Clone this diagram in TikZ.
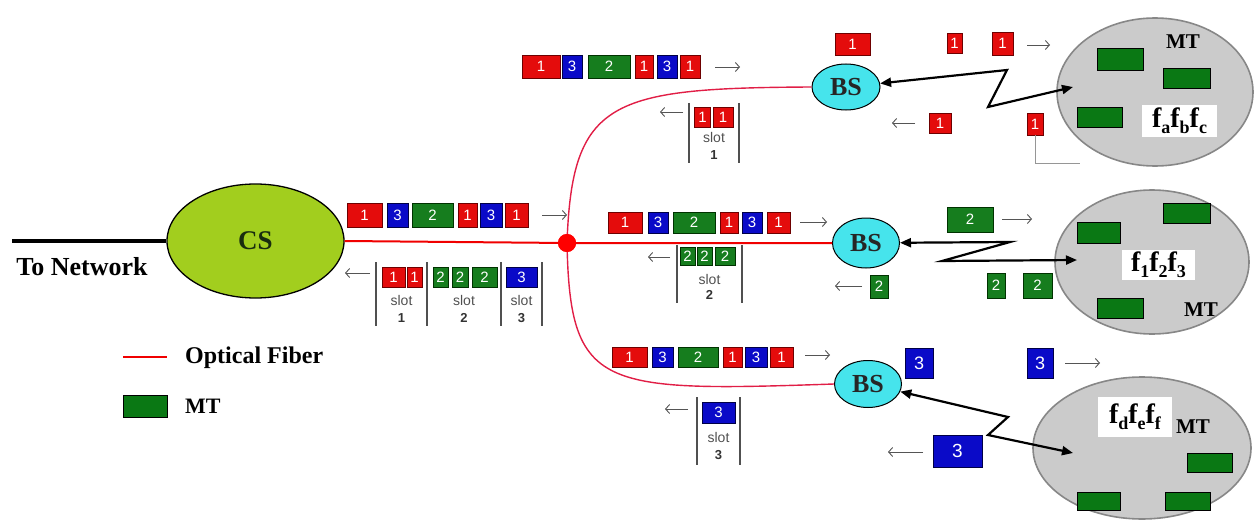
\documentclass[tikz,border=0pt]{standalone}
\usepackage{fontspec}
\setmainfont{Liberation Serif}
\newfontfamily\sfa{Liberation Sans}
\usetikzlibrary{shapes.geometric,arrows.meta}
\definecolor{pkred}{RGB}{228,12,12}
\definecolor{pkredd}{RGB}{110,0,0}
\definecolor{pkblue}{RGB}{10,10,200}
\definecolor{pkblued}{RGB}{0,0,70}
\definecolor{pkgreen}{RGB}{22,125,30}
\definecolor{pkgreend}{RGB}{0,50,0}
\definecolor{mtgreen}{RGB}{10,120,20}
\definecolor{csfill}{RGB}{162,206,30}
\definecolor{bsfill}{RGB}{70,228,236}
\definecolor{cellfill}{RGB}{203,203,203}
\definecolor{celldraw}{RGB}{135,135,135}
\definecolor{fiberred}{RGB}{240,0,0}
\definecolor{fiberpink}{RGB}{225,30,70}
\definecolor{arrgray}{RGB}{85,85,85}
\definecolor{slotgray}{RGB}{80,80,80}
\newcommand\pkt[7]{\node[#1,minimum width=#5,minimum height=#6] (#2) at (#3,#4) {#7};}
\newcommand\tarrow[3]{\coordinate (#1s) at (#2); \coordinate (#1e) at (#3); \draw[thinarr] (#1s) -- (#1e);}
\newcommand\sbar[4]{\coordinate (#1t) at (#2,#3); \coordinate (#1b) at (#2,#4); \draw[slotbar] (#1t) -- (#1b);}
\newcommand\lsub[1]{\raisebox{-0.22em}{\fontsize{18}{18}\selectfont #1}}
\begin{document}
\begin{tikzpicture}[x=1pt,y=-1pt,
  pbase/.style={rectangle,inner sep=0pt,line width=0.8pt,font=\sfa\fontsize{15}{15}\selectfont,text=white},
  pr/.style={pbase,fill=pkred,draw=pkredd},
  pb/.style={pbase,fill=pkblue,draw=pkblued},
  pg/.style={pbase,fill=pkgreen,draw=pkgreend},
  mtbox/.style={rectangle,inner sep=0pt,fill=mtgreen,draw=black,line width=0.8pt},
  thinarr/.style={draw=arrgray,line width=0.9pt,-{Straight Barb[length=4pt,width=9pt]}},
  slotbar/.style={draw=slotgray,line width=1.6pt},
  slottxt/.style={inner sep=0pt,font=\sfa\fontsize{14}{14}\selectfont,text=slotgray},
  slotnum/.style={inner sep=0pt,font=\sfa\bfseries\fontsize{13}{13}\selectfont,text=black!80},
  bs/.style={ellipse,inner sep=0pt,fill=bsfill,draw=black,line width=1pt,font=\bfseries\fontsize{26}{26}\selectfont,text=black!85},
  cell/.style={ellipse,inner sep=0pt,fill=cellfill,draw=celldraw,line width=1.6pt},
  fbox/.style={rectangle,inner sep=1pt,fill=white,font=\bfseries\fontsize{28}{28}\selectfont},
  mtlab/.style={inner sep=0pt,font=\bfseries\fontsize{21}{21}\selectfont},
  zz/.style={line width=2.2pt,draw=black,{Triangle[length=11pt,width=9pt]}-{Triangle[length=11pt,width=9pt]}},
  fiber/.style={draw=fiberred,line width=2pt},
  fiberb/.style={draw=fiberpink,line width=1.4pt}
]
\useasboundingbox (0,0) rectangle (1254,527);

% ---------- CS and network link ----------
\node[ellipse,inner sep=0pt,minimum width=177,minimum height=114,fill=csfill,draw=black,line width=1.3pt,
      font=\bfseries\fontsize{27}{27}\selectfont,text={rgb,255:red,25;green,45;blue,15}] (cs) at (255.5,241) {CS};
\coordinate (netend) at (12,241);
\draw[line width=3.5pt,black] (netend) -- (cs.west);
\node[inner sep=0pt,font=\bfseries\fontsize{26}{26}\selectfont] (tonet) at (82,267) {To Network};

% ---------- BS nodes ----------
\node[bs,minimum width=68,minimum height=46] (bs1) at (846,87) {BS};
\node[bs,minimum width=67,minimum height=50] (bs2) at (866,243) {BS};
\node[bs,minimum width=67,minimum height=47] (bs3) at (868,384) {BS};

% ---------- fibers ----------
\node[circle,inner sep=0pt,minimum size=18,fill=red,draw=none] (dot) at (567,243) {};
\draw[fiber] (cs.east) -- (dot.center) -- (bs2.west);
\draw[fiberb] (dot.center) .. controls (572,100) and (610,88) .. (bs1.west);
\draw[fiberb] (dot.center) .. controls (570,390) and (600,392) .. (bs3.west);
\node[circle,inner sep=0pt,minimum size=18,fill=red,draw=none] at (dot) {};

% ---------- CS downstream stream ----------
\pkt{pr}{a1}{364.5}{215}{35}{24}{1}
\pkt{pb}{a2}{397.5}{215}{21}{24}{3}
\pkt{pg}{a3}{432.5}{215}{41}{24}{2}
\pkt{pr}{a4}{467.5}{215}{19}{24}{1}
\pkt{pb}{a5}{491}{215}{22}{24}{3}
\pkt{pr}{a6}{516.5}{215}{23}{24}{1}
\tarrow{aa}{542,215}{567,215}

% ---------- CS upstream slots ----------
\tarrow{ba}{370,273}{345,273}
\sbar{bb1}{376}{262}{326}
\sbar{bb2}{427}{262}{326}
\sbar{bb3}{501}{262}{326}
\sbar{bb4}{542}{262}{326}
\pkt{pr}{b1}{393.5}{277}{23}{20}{1}
\pkt{pr}{b2}{414.5}{277}{15}{20}{1}
\pkt{pg}{b3}{440.5}{277}{15}{20}{2}
\pkt{pg}{b4}{460}{277}{16}{20}{2}
\pkt{pg}{b5}{484.5}{277}{25}{20}{2}
\pkt{pb}{b6}{521.5}{277}{31}{20}{3}
\node[slottxt] (bs1t) at (401.5,300) {slot};
\node[slotnum] (bs1n) at (401.5,318) {1};
\node[slottxt] (bs2t) at (464,300) {slot};
\node[slotnum] (bs2n) at (464,318) {2};
\node[slottxt] (bs3t) at (521.5,300) {slot};
\node[slotnum] (bs3n) at (521.5,318) {3};

% ---------- top branch ----------
\pkt{pr}{c1}{541}{66.5}{38}{23}{1}
\pkt{pb}{c2}{572}{66.5}{20}{23}{3}
\pkt{pg}{c3}{609}{66.5}{42}{23}{2}
\pkt{pr}{c4}{644}{66.5}{18}{23}{1}
\pkt{pb}{c5}{667}{66.5}{20}{23}{3}
\pkt{pr}{c6}{690}{66.5}{20}{23}{1}
\tarrow{ca}{715,67}{740,67}
\tarrow{da}{683,112}{660,112}
\sbar{db1}{689}{103}{163}
\sbar{db2}{739}{103}{163}
\pkt{pr}{d1}{702.5}{117}{16}{20}{1}
\pkt{pr}{d2}{723}{117}{20}{20}{1}
\node[slottxt] (ds) at (714,137) {slot};
\node[slotnum] (dn) at (714,155) {1};

\pkt{pr}{e1}{852.5}{44}{35}{22}{1}
\pkt{pr}{e2}{954.5}{43}{15}{20}{1}
\pkt{pr}{e3}{1002.5}{43.5}{21}{23}{1}
\tarrow{ea}{1027,45}{1050,45}
\tarrow{eb}{915,123}{892,123}
\pkt{pr}{e4}{940}{123}{22}{20}{1}
\pkt{pr}{e5}{1035}{124}{16}{22}{1}
\coordinate (gl1) at (1035,163);
\coordinate (gl2) at (1080,163);
\draw[draw={rgb,255:red,150;green,150;blue,150},line width=0.8pt] (e5.south) -- (gl1) -- (gl2);

% ---------- middle branch ----------
\pkt{pr}{f1}{625}{222.5}{34}{21}{1}
\pkt{pb}{f2}{658}{222.5}{20}{21}{3}
\pkt{pg}{f3}{694}{222.5}{42}{21}{2}
\pkt{pr}{f4}{729}{222.5}{18}{21}{1}
\pkt{pb}{f5}{752}{222.5}{20}{21}{3}
\pkt{pr}{f6}{778.5}{222.5}{23}{21}{1}
\tarrow{fa}{800,222}{827,222}
\tarrow{ga}{670,257}{648,257}
\sbar{gb1}{677}{245}{303}
\sbar{gb2}{742}{245}{303}
\pkt{pg}{g1}{687.5}{256}{15}{18}{2}
\pkt{pg}{g2}{704.5}{256}{15}{18}{2}
\pkt{pg}{g3}{725}{256}{20}{18}{2}
\node[slottxt] (gs) at (709.5,279) {slot};
\node[slotnum] (gn) at (709.5,295) {2};

\pkt{pg}{h1}{970}{219.5}{46}{25}{2}
\tarrow{ha}{1002,219}{1032,219}
\tarrow{hb}{862,286}{835,286}
\pkt{pg}{h2}{879}{286.5}{18}{23}{2}
\pkt{pg}{h3}{996}{285.5}{18}{25}{2}
\pkt{pg}{h4}{1037.5}{285.5}{29}{25}{2}

% ---------- bottom branch ----------
\pkt{pr}{i1}{629.5}{357}{35}{20}{1}
\pkt{pb}{i2}{662.5}{357}{21}{20}{3}
\pkt{pg}{i3}{698}{357}{40}{20}{2}
\pkt{pr}{i4}{732.5}{357}{19}{20}{1}
\pkt{pb}{i5}{756}{357}{22}{20}{3}
\pkt{pr}{i6}{781.5}{357}{23}{20}{1}
\tarrow{ia}{805,355}{830,355}
\tarrow{ja}{688,409}{665,409}
\sbar{jb1}{697}{397}{465}
\sbar{jb2}{740}{397}{465}
\pkt{pb}{j1}{718.5}{412.5}{33}{21}{3}
\node[slottxt] (js) at (718.5,437) {slot};
\node[slotnum] (jn) at (718.5,455) {3};

\pkt{pb}{k1}{919}{363}{28}{30}{\fontsize{18}{18}\selectfont 3}
\pkt{pb}{k2}{1040}{363}{26}{30}{\fontsize{18}{18}\selectfont 3}
\tarrow{ka}{1065,363}{1100,363}
\pkt{pb}{k3}{957.5}{451}{49}{32}{\fontsize{19}{19}\selectfont 3}
\tarrow{kb}{923,452}{888,452}

% ---------- MT cells ----------
\node[cell,minimum width=196,minimum height=148] (cell1) at (1155,92) {};
\node[cell,minimum width=194,minimum height=144] (cell2) at (1152,262) {};
\node[cell,minimum width=218,minimum height=142] (cell3) at (1142,448) {};

\node[mtbox,minimum width=46,minimum height=22] (m11) at (1120,59) {};
\node[mtbox,minimum width=47,minimum height=20] (m12) at (1186.5,78) {};
\node[mtbox,minimum width=45,minimum height=20] (m13) at (1099.5,117) {};
\node[mtlab] (mt1) at (1183,42) {MT};
\node[fbox,minimum width=75,minimum height=32] (fb1) at (1179.5,121) {f\lsub{a}f\lsub{b}f\lsub{c}};

\node[mtbox,minimum width=43,minimum height=21] (m21) at (1098.5,232.5) {};
\node[mtbox,minimum width=47,minimum height=20] (m22) at (1186.5,213) {};
\node[mtbox,minimum width=46,minimum height=20] (m23) at (1120,308) {};
\node[mtlab] (mt2) at (1201,310) {MT};
\node[fbox,minimum width=73,minimum height=30] (fb2) at (1158.5,265) {f\lsub{1}f\lsub{2}f\lsub{3}};

\node[mtbox,minimum width=45,minimum height=19] (m31) at (1209.5,462.5) {};
\node[mtbox,minimum width=43,minimum height=18] (m32) at (1098.5,501) {};
\node[mtbox,minimum width=45,minimum height=18] (m33) at (1187.5,501) {};
\node[mtlab] (mt3) at (1193,427) {MT};
\node[fbox,minimum width=74,minimum height=40] (fb3) at (1135,417) {f\lsub{d}f\lsub{e}f\lsub{f}};

% ---------- wireless links ----------
\coordinate (z1a) at (1007,70);
\coordinate (z1b) at (988,107);
\coordinate (z1c) at (1073,87);
\draw[zz] (bs1) -- (z1a) -- (z1b) -- (z1c);
\coordinate (z2a) at (1010,242);
\coordinate (z2b) at (942,261);
\coordinate (z2c) at (1077,260);
\draw[zz] (bs2) -- (z2a) -- (z2b) -- (z2c);
\coordinate (z3a) at (1008,417);
\coordinate (z3b) at (988,435);
\coordinate (z3c) at (1073,453);
\draw[zz] (bs3) -- (z3a) -- (z3b) -- (z3c);

% ---------- legend ----------
\coordinate (lg1) at (123,357);
\coordinate (lg2) at (167,357);
\draw[draw=fiberred,line width=1.6pt] (lg1) -- (lg2);
\node[anchor=west,inner sep=0pt,font=\bfseries\fontsize{24}{24}\selectfont] (lgf) at (185,358) {Optical Fiber};
\node[mtbox,minimum width=44,minimum height=22] (lgm) at (145,406) {};
\node[anchor=west,inner sep=0pt,font=\bfseries\fontsize{22}{22}\selectfont] (lgt) at (185,406) {MT};
\end{tikzpicture}
\end{document}
